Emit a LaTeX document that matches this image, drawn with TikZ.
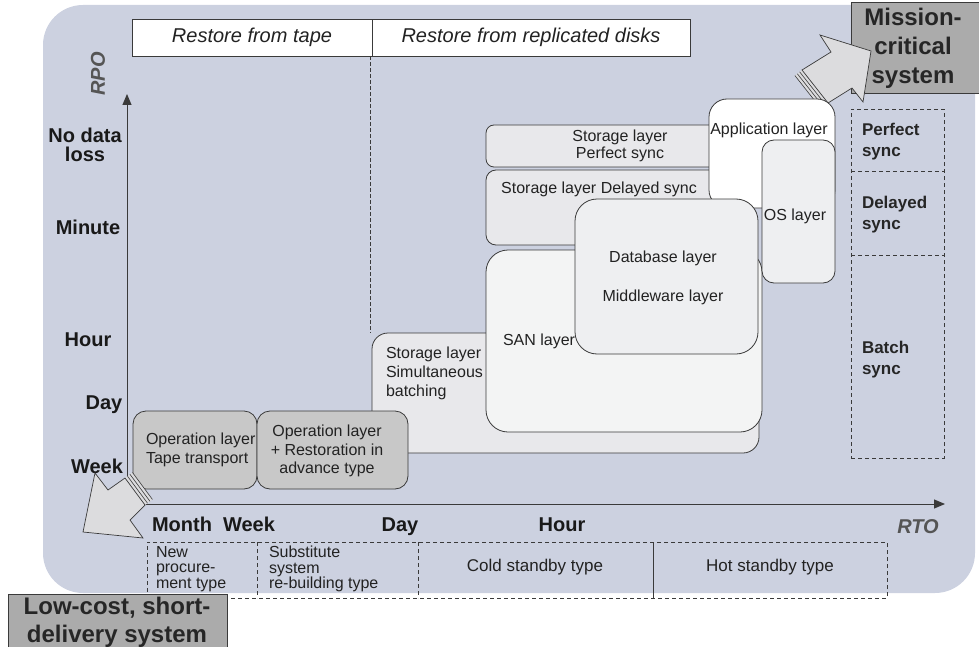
\documentclass[tikz,border=0pt]{standalone}
\usepackage{fontspec}
\setmainfont{Liberation Sans}
\usetikzlibrary{arrows.meta,calc}
\definecolor{bg}{HTML}{CCD1E0}
\definecolor{ln}{HTML}{3A3A3A}
\definecolor{opfill}{HTML}{C8C8C8}
\definecolor{stfill}{HTML}{E8E8EB}
\definecolor{sanfill}{HTML}{F3F4F4}
\definecolor{dbfill}{HTML}{EEEFF1}
\definecolor{titlefill}{HTML}{ABABAB}
\definecolor{arrfill}{HTML}{DCDCDE}
\definecolor{txt}{HTML}{222222}
\definecolor{axlab}{HTML}{555555}
\begin{document}
\begin{tikzpicture}[x=1pt,y=-1pt,
  every node/.style={text=txt, inner sep=0pt, outer sep=0pt, font=\fontsize{16}{19}\selectfont},
  layerbox/.style={draw=ln, line width=0.8pt, rounded corners=#1, anchor=north west},
  layerbox/.default=14pt,
  axislabel/.style={font=\bfseries\fontsize{20}{19}\selectfont, text=black!90, align=center},
  xlabel/.style={font=\bfseries\fontsize{20}{22}\selectfont, text=black!90, anchor=base},
  axistitle/.style={font=\bfseries\itshape\fontsize{20}{22}\selectfont, text=axlab},
  synclabel/.style={font=\bfseries\fontsize{17}{21}\selectfont, align=left, anchor=west, text=black!85},
  titlebox/.style={draw=ln, line width=0.8pt, fill=titlefill, anchor=north west},
  titletext/.style={font=\bfseries\fontsize{24}{29}\selectfont, align=center, text=black!85},
  tabletext/.style={font=\fontsize{16}{15.5}\selectfont},
  dashedline/.style={draw=ln, line width=0.7pt, dash pattern=on 4pt off 3pt},
  blockarrow/.style={draw=ln, line width=0.7pt, fill=arrfill, line join=miter},
  stripe/.style={draw=ln, line width=0.6pt},
  axisline/.style={draw=ln, line width=1pt, -{Triangle[length=11pt,width=9pt]}},
  header/.style={draw=ln, line width=0.8pt, fill=white, minimum height=37pt, anchor=north west, font=\itshape\fontsize{20}{22}\selectfont}
]
\useasboundingbox (0,0) rectangle (979,647);

% background panel
\node[fill=bg, rounded corners=40pt, minimum width=932pt, minimum height=588pt, anchor=north west] (bgpanel) at (43,5) {};

% headers
\node[header, minimum width=240pt] (hdrtape) at (132,19) {Restore from tape};
\node[header, minimum width=318pt] (hdrdisk) at (372,19) {Restore from replicated disks};
\coordinate (dtop) at (370,56);
\coordinate (dbot) at (370,333);
\draw[draw=ln, line width=0.6pt, dash pattern=on 4pt off 2pt] (dtop) -- (dbot);

% axes
\coordinate (yaxb) at (127,505);
\coordinate (yaxt) at (127,94);
\coordinate (xaxl) at (127,504);
\coordinate (xaxr) at (945,504);
\draw[axisline] (yaxb) -- (yaxt);
\draw[axisline] (xaxl) -- (xaxr);

% storage layer simultaneous batching
\node[layerbox=16pt, fill=stfill, minimum width=387pt, minimum height=120pt] (ssb) at (372,333) {};
\node[anchor=west, align=left] (ssbt) at (386,373) {Storage layer\\Simultaneous\\batching};
% SAN layer
\node[layerbox=22pt, fill=sanfill, minimum width=276pt, minimum height=182pt] (san) at (486,250) {};
\node[anchor=west] (sant) at (503,341) {SAN layer};
% storage perfect sync
\node[layerbox=8pt, fill=stfill, minimum width=240pt, minimum height=42pt] (sps) at (486,125) {};
\node[align=center, font=\fontsize{16}{17}\selectfont] (spst) at (620,146) {Storage layer\\Perfect sync};
% storage delayed sync
\node[layerbox=10pt, fill=stfill, minimum width=240pt, minimum height=75pt] (sds) at (486,170) {};
\node (sdst) at (599,189) {Storage layer Delayed sync};

% mission critical box and arrow
\node[titlebox, minimum width=140pt, minimum height=91pt] (mc) at (851,2) {};
\node[titletext] (mct) at (913,48) {Mission-\\critical\\system};
\coordinate (ma1) at (820,35);
\coordinate (ma2) at (871,51);
\coordinate (ma3) at (863,102);
\coordinate (ma4) at (852,88);
\coordinate (ma5) at (828,103);
\coordinate (ma6) at (802,70);
\coordinate (ma7) at (831,52);
\fill[arrfill] (ma6) -- (ma5) -- ($(ma5)+(-7.1,5.6)$) -- ($(ma6)+(-7.1,5.6)$) -- cycle;
\foreach \k in {1,2,3}{
  \draw[stripe] ($(ma6)+(-2.36*\k,1.86*\k)$) -- ($(ma5)+(-2.36*\k,1.86*\k)$);
}
\draw[blockarrow] (ma1) -- (ma2) -- (ma3) -- (ma4) -- (ma5) -- (ma6) -- (ma7) -- cycle;

% application, OS, database layers
\node[layerbox=18pt, fill=white, minimum width=126pt, minimum height=109pt] (app) at (709,99) {};
\node (appt) at (769,130) {Application layer};
\node[layerbox=12pt, fill=dbfill, minimum width=73pt, minimum height=143pt] (os) at (762,140) {};
\node (ost) at (795,216) {OS layer};
\node[layerbox=22pt, fill=dbfill, minimum width=183pt, minimum height=155pt] (db) at (575,199) {};
\node (dbt) at (663,258) {Database layer};
\node (mwt) at (663,297) {Middleware layer};

% operation layers
\node[layerbox=13pt, fill=opfill, minimum width=124pt, minimum height=78pt] (op1) at (133,411) {};
\node[anchor=west, align=left] (op1t) at (146,450) {Operation layer\\Tape transport};
\node[layerbox=13pt, fill=opfill, minimum width=151pt, minimum height=78pt] (op2) at (257,411) {};
\node[align=center, font=\fontsize{16}{18.5}\selectfont] (op2t) at (327,451) {Operation layer\\+ Restoration in\\advance type};

% right sync column
\node[dashedline, minimum width=93pt, minimum height=349pt, anchor=north west] (rc) at (851,109) {};
\coordinate (rc1l) at (851,171);
\coordinate (rc1r) at (944,171);
\coordinate (rc2l) at (851,255);
\coordinate (rc2r) at (944,255);
\draw[dashedline] (rc1l) -- (rc1r);
\draw[dashedline] (rc2l) -- (rc2r);
\node[synclabel] (perf) at (862,141.5) {Perfect\\sync};
\node[synclabel] (dely) at (862,214.5) {Delayed\\sync};
\node[synclabel] (btch) at (862,360) {Batch\\sync};

% bottom table
\node[dashedline, minimum width=740pt, minimum height=56pt, anchor=north west] (bt) at (147,542) {};
\coordinate (bt1t) at (257,542);
\coordinate (bt1b) at (257,598);
\coordinate (bt2t) at (418,542);
\coordinate (bt2b) at (418,598);
\coordinate (bt3t) at (653,542);
\coordinate (bt3b) at (653,598);
\draw[dashedline] (bt1t) -- (bt1b);
\draw[dashedline] (bt2t) -- (bt2b);
\draw[draw=ln, line width=0.6pt] (bt3t) -- (bt3b);
\node[tabletext, anchor=west, align=left] (newp) at (156,569) {New\\procure-\\ment type};
\node[tabletext, anchor=west, align=left] (subs) at (269,569) {Substitute\\system\\re-building type};
\node[tabletext, font=\fontsize{17}{19}\selectfont] (cold) at (535,567) {Cold standby type};
\node[tabletext, font=\fontsize{17}{19}\selectfont] (hot) at (770,567) {Hot standby type};

% axis labels
\node[axistitle, rotate=90] (rpo) at (98,74) {RPO};
\node[axistitle, anchor=base] (rto) at (918,533) {RTO};
\node[axislabel] (ynod) at (85,145) {No data\\loss};
\node[axislabel] (ymin) at (88,227) {Minute};
\node[axislabel] (yhr) at (88,340) {Hour};
\node[axislabel] (yday) at (104,405) {Day};
\node[axislabel] (ywk) at (97,466) {Week};
\node[xlabel] (xmon) at (182,531) {Month};
\node[xlabel] (xwk) at (249,531) {Week};
\node[xlabel] (xday) at (400,531) {Day};
\node[xlabel] (xhr) at (562,531) {Hour};

% low-cost arrow
\coordinate (la1) at (95,473);
\coordinate (la2) at (108,490);
\coordinate (la3) at (125,478);
\coordinate (la4) at (145,505);
\coordinate (la5) at (130,520);
\coordinate (la6) at (143,538);
\coordinate (la7) at (83,532);
\fill[arrfill] (la3) -- (la4) -- ($(la4)+(7.5,-5.5)$) -- ($(la3)+(7.5,-5.5)$) -- cycle;
\foreach \k in {1,2,3}{
  \draw[stripe] ($(la3)+(2.49*\k,-1.84*\k)$) -- ($(la4)+(2.49*\k,-1.84*\k)$);
}
\draw[blockarrow] (la1) -- (la2) -- (la3) -- (la4) -- (la5) -- (la6) -- (la7) -- cycle;

% low-cost box
\node[titlebox, minimum width=219pt, minimum height=56pt] (lc) at (8,594) {};
\node[titletext, font=\bfseries\fontsize{24}{28}\selectfont] (lct) at (117,622) {Low-cost, short-\\delivery system};
\end{tikzpicture}
\end{document}
